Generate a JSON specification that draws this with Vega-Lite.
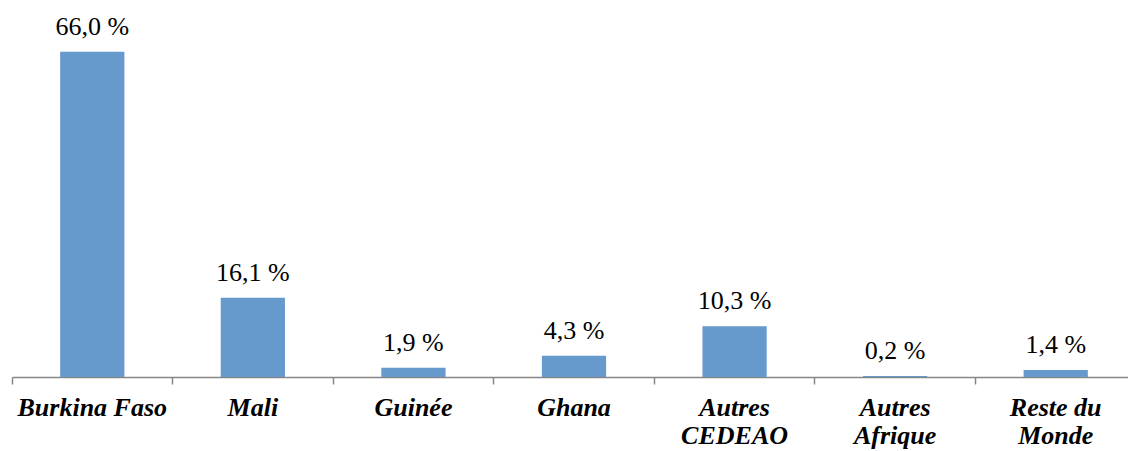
{
  "$schema": "https://vega.github.io/schema/vega-lite/v6.json",
  "width": 1124,
  "height": 345,
  "autosize": {"type": "none"},
  "padding": {"left": 12, "top": 32, "right": 0, "bottom": 74},
  "background": "white",
  "config": {"view": {"stroke": null}, "font": "Liberation Serif"},
  "data": {
    "values": [
      {"pays": "Burkina Faso", "part": 66.0},
      {"pays": "Mali", "part": 16.1},
      {"pays": "Guinée", "part": 1.9},
      {"pays": "Ghana", "part": 4.3},
      {"pays": "Autres CEDEAO", "part": 10.3},
      {"pays": "Autres Afrique", "part": 0.2},
      {"pays": "Reste du Monde", "part": 1.4}
    ]
  },
  "transform": [
    {"calculate": "replace(format(datum.part, '.1f'), '.', ',') + ' %'", "as": "etiquette"}
  ],
  "encoding": {
    "x": {
      "field": "pays",
      "type": "nominal",
      "sort": null,
      "scale": {"paddingInner": 0, "paddingOuter": 0},
      "axis": {
        "title": null,
        "labelAngle": 0,
        "labelFont": "Liberation Serif",
        "labelFontSize": 26,
        "labelFontWeight": "bold",
        "labelFontStyle": "italic",
        "labelColor": "black",
        "labelLineHeight": 28,
        "labelPadding": 10,
        "labelExpr": "datum.value == 'Burkina Faso' ? datum.value : datum.value == 'Reste du Monde' ? ['Reste du', 'Monde'] : split(datum.value, ' ')",
        "bandPosition": 0,
        "ticks": true,
        "tickSize": 7,
        "tickColor": "#868686",
        "tickWidth": 1.5,
        "domainColor": "#868686",
        "domainWidth": 1.5,
        "grid": false
      }
    },
    "y": {
      "field": "part",
      "type": "quantitative",
      "scale": {"domain": [0, 70], "nice": false},
      "axis": null
    }
  },
  "layer": [
    {
      "mark": {"type": "bar", "color": "#6699CC", "width": {"band": 0.4}}
    },
    {
      "mark": {"type": "text", "font": "Liberation Serif", "fontSize": 26, "color": "black", "baseline": "alphabetic", "dy": -17},
      "encoding": {"text": {"field": "etiquette"}}
    }
  ]
}
